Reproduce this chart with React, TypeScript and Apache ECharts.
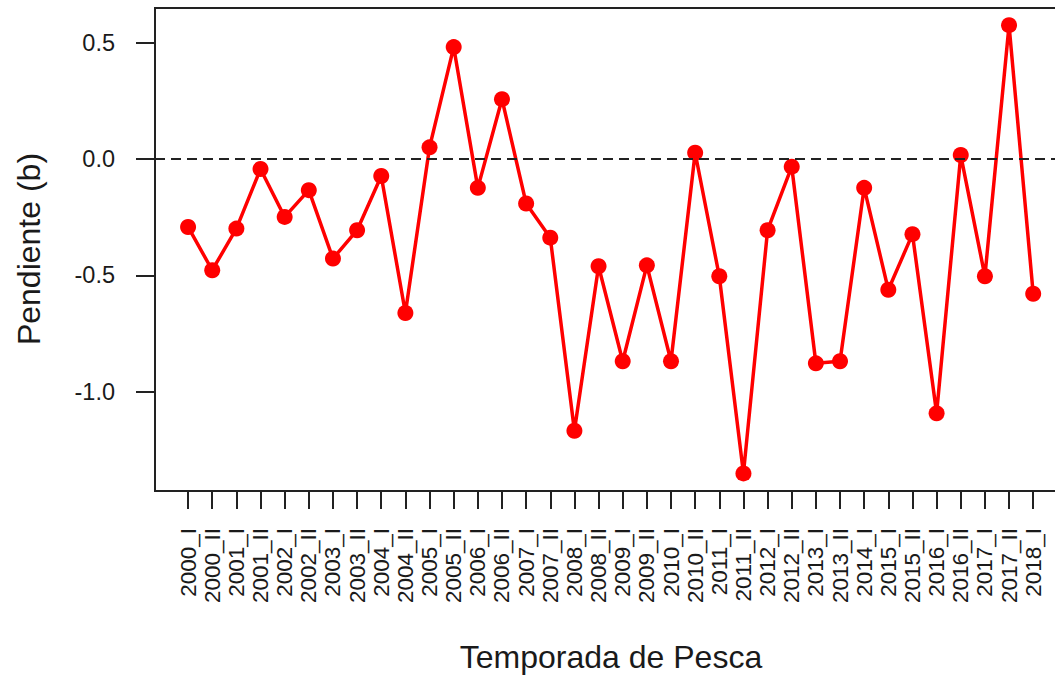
import React, { useEffect, useRef } from "react";
import * as echarts from "echarts";

const categories: string[] = [
  "2000_I", "2000_II", "2001_I", "2001_II", "2002_I", "2002_II",
  "2003_I", "2003_II", "2004_I", "2004_II", "2005_I", "2005_II",
  "2006_I", "2006_II", "2007_I", "2007_II", "2008_I", "2008_II",
  "2009_I", "2009_II", "2010_I", "2010_II", "2011_I", "2011_II",
  "2012_I", "2012_II", "2013_I", "2013_II", "2014_I", "2015_I",
  "2015_II", "2016_I", "2016_II", "2017_I", "2017_II", "2018_I",
];

const slopes: number[] = [
  -0.292, -0.478, -0.299, -0.043, -0.249, -0.134,
  -0.428, -0.306, -0.073, -0.662, 0.05, 0.481,
  -0.124, 0.257, -0.191, -0.338, -1.168, -0.461,
  -0.869, -0.457, -0.869, 0.027, -0.504, -1.351,
  -0.306, -0.033, -0.878, -0.869, -0.124, -0.562,
  -0.323, -1.093, 0.017, -0.504, 0.575, -0.579,
];

const yTicks: number[] = [-1.0, -0.5, 0.0, 0.5];
const xTitle = "Temporada de Pesca";
const yTitle = "Pendiente (b)";

const FONT = "'Liberation Sans', Arial, sans-serif";

export default function App() {
  const ref = useRef<HTMLDivElement | null>(null);

  useEffect(() => {
    if (!ref.current) return;
    const chart = echarts.init(ref.current, undefined, { renderer: "svg" });
    const xIdx = categories.map((_, i) => i);
    const data = slopes.map((v, i) => [i, v]);

    chart.setOption({
      animation: false,
      backgroundColor: "#ffffff",
      grid: {
        left: 155,
        top: 8,
        right: 13,
        bottom: 184,
        show: true,
        borderColor: "#222",
        borderWidth: 2,
        backgroundColor: "transparent",
      },
      xAxis: {
        type: "value",
        min: -1.37,
        max: 36.4,
        splitLine: { show: false },
        axisLine: { show: true, onZero: false, lineStyle: { color: "#222", width: 2 } },
        axisTick: {
          show: true,
          customValues: xIdx,
          length: 18,
          lineStyle: { color: "#222", width: 2 },
        },
        axisLabel: {
          customValues: xIdx,
          rotate: 90,
          margin: 37,
          fontSize: 22.5,
          fontFamily: FONT,
          color: "#1a1a1a",
          formatter: (v: number) => categories[Math.round(v)] ?? "",
        },
      },
      yAxis: {
        type: "value",
        min: -1.4267,
        max: 0.6489,
        splitLine: { show: false },
        axisLine: { show: true, onZero: false, lineStyle: { color: "#222", width: 2 } },
        axisTick: {
          show: true,
          customValues: yTicks,
          length: 19,
          lineStyle: { color: "#222", width: 2 },
        },
        axisLabel: {
          customValues: yTicks,
          margin: 40,
          fontSize: 23.5,
          fontFamily: FONT,
          color: "#1a1a1a",
          formatter: (v: number) => v.toFixed(1),
        },
      },
      graphic: [
        {
          type: "text",
          x: 611,
          y: 657,
          style: {
            text: xTitle,
            fontSize: 32,
            fontFamily: FONT,
            fill: "#1a1a1a",
            align: "center",
            verticalAlign: "middle",
          },
        },
        {
          type: "text",
          x: 29,
          y: 249,
          rotation: Math.PI / 2,
          style: {
            text: yTitle,
            fontSize: 32,
            fontFamily: FONT,
            fill: "#1a1a1a",
            align: "center",
            verticalAlign: "middle",
          },
        },
      ],
      series: [
        {
          type: "line",
          data,
          symbol: "circle",
          symbolSize: 16,
          lineStyle: { color: "#ff0000", width: 3.5 },
          itemStyle: { color: "#ff0000" },
          markLine: {
            silent: true,
            symbol: ["none", "none"],
            label: { show: false },
            lineStyle: { color: "#222", type: [10, 6], width: 2 },
            data: [{ yAxis: 0 }],
          },
        },
      ],
    });

    return () => chart.dispose();
  }, []);

  return (
    <div
      style={{
        position: "fixed",
        left: 0,
        top: 0,
        width: 1055,
        height: 675,
        overflow: "hidden",
        background: "#fff",
      }}
    >
      <div ref={ref} style={{ width: 1080, height: 675 }} />
    </div>
  );
}
